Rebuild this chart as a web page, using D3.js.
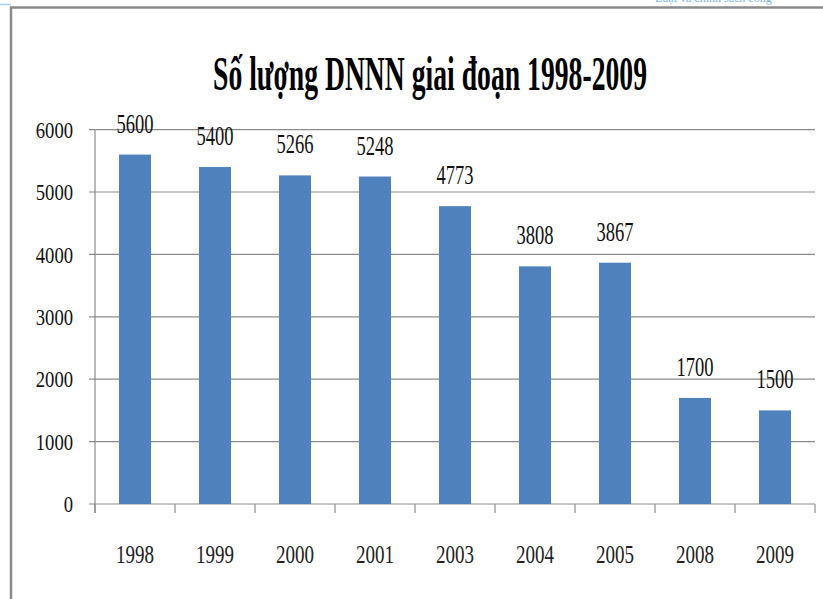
<!DOCTYPE html>
<head>
<meta charset="utf-8">
<script src="https://d3js.org/d3.v7.min.js"></script>
</head>
<style>
body { margin: 0; background: #fff; }
text { font-family: "Liberation Serif", "Times New Roman", serif; }
</style>
<body>
<script>
// data
var years = ["1998", "1999", "2000", "2001", "2003", "2004", "2005", "2008", "2009"];
var counts = [5600, 5400, 5266, 5248, 4773, 3808, 3867, 1700, 1500];
var yTicks = [0, 1000, 2000, 3000, 4000, 5000, 6000];
var title = "Số lượng DNNN giai đoạn 1998-2009";

var W = 823, H = 599;
var plotLeft = 95, plotRight = 815, plotTop = 129.6, plotBottom = 504;

var svg = d3.select("body").append("svg")
    .attr("width", W)
    .attr("height", H);

// page frame
svg.append("line").attr("x1", 0).attr("x2", 11).attr("y1", 4.5).attr("y2", 4.5)
    .attr("stroke", "#a9d0f5").attr("stroke-width", 1.5);
svg.append("text").attr("x", 655).attr("y", 2)
    .attr("font-size", 12).attr("fill", "#7fb8ee")
    .text("Luật và chính sách công");
svg.append("path")
    .attr("d", "M11," + H + "V7.5H" + W)
    .attr("fill", "none").attr("stroke", "#8a8a8a").attr("stroke-width", 2.5);

// title
svg.append("text")
    .attr("x", 213).attr("y", 90)
    .attr("font-size", 49).attr("font-weight", "bold")
    .attr("textLength", 434).attr("lengthAdjust", "spacingAndGlyphs")
    .text(title);

var x = d3.scaleBand().domain(years).range([plotLeft, plotRight])
    .paddingInner(0.6).paddingOuter(0.3);
var y = d3.scaleLinear().domain([0, 6000]).range([plotBottom, plotTop]);

// gridlines
svg.append("g").selectAll("line").data(yTicks).join("line")
    .attr("x1", plotLeft - 6).attr("x2", plotRight)
    .attr("y1", function(d) { return y(d); })
    .attr("y2", function(d) { return y(d); })
    .attr("stroke", "#8c8c8c").attr("stroke-width", 1.2);

// y axis
var yAxis = svg.append("g")
    .attr("transform", "translate(" + plotLeft + ",0)")
    .call(d3.axisLeft(y).tickValues(yTicks).tickFormat(d3.format("d"))
      .tickSize(0).tickPadding(22));
yAxis.select(".domain").remove();
yAxis.selectAll("text")
    .attr("font-family", "Liberation Serif")
    .attr("font-size", 24).attr("fill", "#111")
    .attr("textLength", function(d) { return String(d).length * 9.3; })
    .attr("lengthAdjust", "spacingAndGlyphs");

// vertical axis line and category ticks
svg.append("line").attr("x1", plotLeft).attr("x2", plotLeft)
    .attr("y1", plotTop).attr("y2", plotBottom + 9)
    .attr("stroke", "#8c8c8c").attr("stroke-width", 1.2);
var edges = d3.range(years.length + 1).map(function(i) { return plotLeft + i * x.step(); });
svg.append("g").selectAll("line").data(edges).join("line")
    .attr("x1", function(d) { return d; }).attr("x2", function(d) { return d; })
    .attr("y1", plotBottom).attr("y2", plotBottom + 9)
    .attr("stroke", "#8c8c8c").attr("stroke-width", 1.2);

// x axis labels
var xAxis = svg.append("g")
    .attr("transform", "translate(0," + plotBottom + ")")
    .call(d3.axisBottom(x).tickSize(0).tickPadding(41));
xAxis.select(".domain").remove();
xAxis.selectAll("text")
    .attr("font-family", "Liberation Serif")
    .attr("font-size", 26).attr("fill", "#222")
    .attr("textLength", 38).attr("lengthAdjust", "spacingAndGlyphs");

// bars
svg.append("g").selectAll("rect").data(counts).join("rect")
    .attr("x", function(d, i) { return x(years[i]); })
    .attr("width", x.bandwidth())
    .attr("y", function(d) { return y(d); })
    .attr("height", function(d) { return plotBottom - y(d); })
    .attr("fill", "#4f81bd");

// value labels
svg.append("g").selectAll("text").data(counts).join("text")
    .attr("x", function(d, i) { return x(years[i]) + x.bandwidth() / 2 - 18.5; })
    .attr("y", function(d) { return y(d) - 22; })
    .attr("font-family", "Liberation Serif")
    .attr("font-size", 27).attr("fill", "#111")
    .attr("textLength", 37).attr("lengthAdjust", "spacingAndGlyphs")
    .text(function(d) { return d; });
</script>
</body>
